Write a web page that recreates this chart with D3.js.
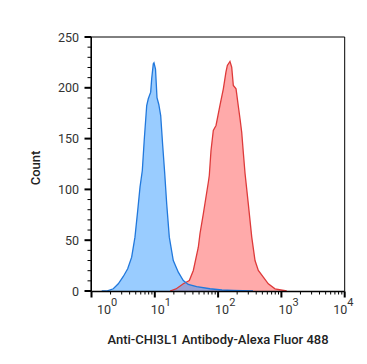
<!DOCTYPE html>
<html><head><meta charset="utf-8">
<script src="https://cdn.jsdelivr.net/npm/d3@7"></script>
<style>body{margin:0;background:#fff}svg{display:block}text{font-family:Roboto,"Noto Sans",sans-serif;fill:#222}</style>
</head><body><svg id="c" width="367" height="364"></svg>
<script>
// Isotype / control (blue) histogram: fluorescence value, count
const blueX = [1.45,1.74,2.21,2.65,3.18,3.73,4.31,4.86,5.37,5.84,6.35,6.83,7.45,7.89,8.61,8.93,9.47,9.71,10.26,10.83,11.57,12.39,13.33,14.33,15.41,16.95,19.59,23.5,28.2,33.8,45.9,74.5,115,172,356];
const blueY = [0,0,2.2,7.1,14.3,21.9,33.3,53,79.2,102.2,118.6,149.8,182.6,189.2,195.7,208.9,223.6,224.6,218.5,190.4,183.6,172.7,143.2,116.1,85.8,53,30,18.5,10.3,6.4,4.4,2.2,1,0.5,0];
// Anti-CHI3L1 stained (red) histogram
const redX = [17.4,21.6,28.2,35.1,40.6,48.7,51.8,58.4,70,72.6,77.2,84,92.7,107,121,133,140,154,164,174,192,208,222,236,250,266,300,340,383,432,518,621,792,1213];
const redY = [0,2,7.1,10.3,20.2,43.1,56.6,76,106.8,113.7,138,158,162.9,182.6,199,215.4,222,225.9,220.3,202.3,199,182.6,169.5,156.3,136.6,116.1,85.8,53,30,20.2,13.6,7.1,2.2,0];
const yTicks = [0,50,100,150,200,250];
const xDecades = [0,1,2,3,4];
const xTitle = "Anti-CHI3L1 Antibody-Alexa Fluor 488";
const yTitle = "Count";

const svg = d3.select("#c");
const x = d3.scaleLog().domain([1,10000]).range([91.5,344.7]);
const y = d3.scaleLinear().domain([0,250]).range([291,37]);
const axisY = 291.5;

function series(xs, ys){ return xs.map((v,i)=>({x:v,y:ys[i]})); }
const area = d3.area().x(d=>x(d.x)).y0(y(0)).y1(d=>y(d.y));
const line = d3.line().x(d=>x(d.x)).y(d=>y(d.y));

const red = series(redX, redY), blue = series(blueX, blueY);
svg.append("path").datum(red).attr("d",area).attr("fill","rgba(255,85,85,0.5)");
svg.append("path").datum(blue).attr("d",area).attr("fill","rgba(51,153,255,0.5)");
svg.append("path").datum(red).attr("d",line).attr("fill","none").attr("stroke","#de3a3a").attr("stroke-width",1.3);
svg.append("path").datum(blue).attr("d",line).attr("fill","none").attr("stroke","#2178dc").attr("stroke-width",1.3);

// frame
const g = svg.append("g").attr("stroke","#000").attr("fill","none");
g.append("line").attr("x1",x(1)).attr("x2",x(10000)).attr("y1",y(250)).attr("y2",y(250)).attr("stroke-width",1);
g.append("line").attr("x1",x(10000)).attr("x2",x(10000)).attr("y1",y(250)).attr("y2",axisY).attr("stroke-width",1);
g.append("line").attr("x1",x(1)).attr("x2",x(10000)).attr("y1",axisY).attr("y2",axisY).attr("stroke-width",1.6);
g.append("line").attr("x1",x(1)-0.3).attr("x2",x(1)-0.3).attr("y1",y(250)).attr("y2",axisY).attr("stroke-width",1.6);

// y ticks
for(let v=0; v<=250; v+=10){
  const major = v%50===0;
  g.append("line").attr("x1",x(1)-(major?7:4)).attr("x2",x(1)).attr("y1",y(v)).attr("y2",y(v)).attr("stroke-width",major?2:1);
}
svg.selectAll("text.yt").data(yTicks).join("text").attr("class","yt")
  .attr("x",79).attr("y",d=>y(d)+4.5).attr("text-anchor","end").attr("font-size",12.5).style("fill","#333").text(d=>d);

// x ticks
xDecades.forEach(k=>{
  const base = Math.pow(10,k);
  g.append("line").attr("x1",x(base)).attr("x2",x(base)).attr("y1",axisY).attr("y2",axisY+6).attr("stroke-width",2);
  if(k<4) for(let m=2;m<=9;m++){
    g.append("line").attr("x1",x(base*m)).attr("x2",x(base*m)).attr("y1",axisY).attr("y2",axisY+3).attr("stroke-width",1);
  }
});
const labOff = [5.5,-4,-3,-3,-11.5];
xDecades.forEach((k,i)=>{
  const t = svg.append("text").attr("x",x(Math.pow(10,k))+labOff[i]).attr("y",314).attr("font-size",12.5).style("fill","#333");
  t.append("tspan").text("10");
  t.append("tspan").attr("dy",-8).attr("font-size",11).text(k);
});

svg.append("text").attr("x",218).attr("y",344).attr("text-anchor","middle").attr("font-size",13).attr("font-weight",500).text(xTitle);
svg.append("text").attr("transform","translate(40,168) rotate(-90)").attr("text-anchor","middle").attr("font-size",13).attr("font-weight",500).text(yTitle);
</script></body></html>
